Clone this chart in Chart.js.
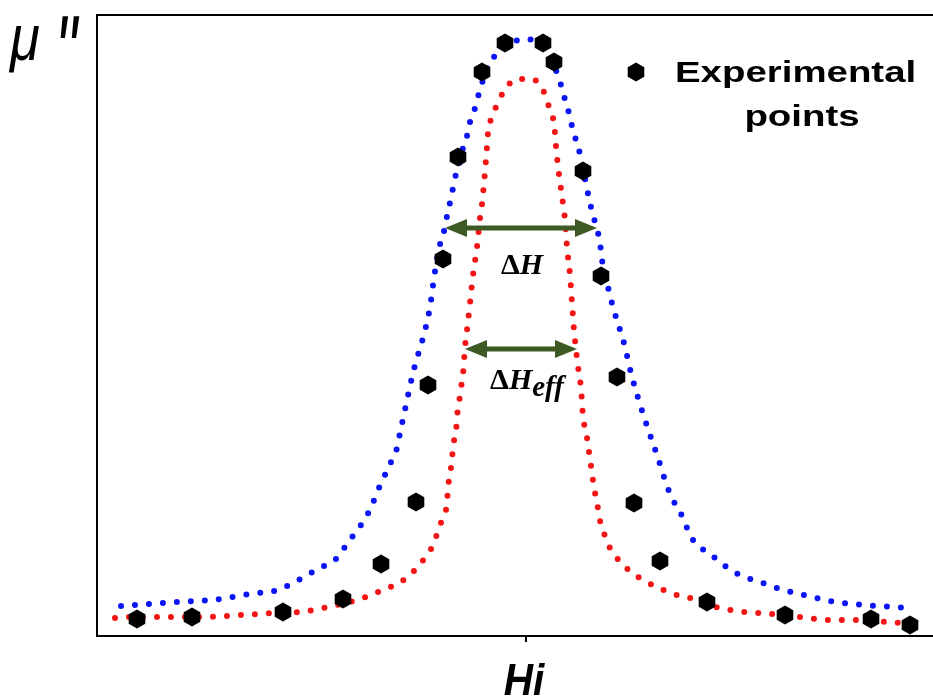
<!DOCTYPE html>
<html>
<head>
<meta charset="utf-8">
<script src="https://cdn.jsdelivr.net/npm/chart.js@4.4.1/dist/chart.umd.min.js"></script>
<style>
  html, body { margin: 0; padding: 0; background: #fff; overflow: hidden; }
  #wrap { width: 933px; height: 698px; position: relative; }
  canvas { display: block; }
</style>
</head>
<body>
<div id="wrap"><canvas id="chart"></canvas></div>
<script>
// Field offset from resonance (Hi = 0) and absorption values.
const pointsX = [-389, -334, -243, -183, -145, -110, -98, -83, -68, -44, -21, 17, 28, 57, 75, 91, 108, 134, 181, 259, 345, 384];
const pointsY = [17, 19, 24, 37, 72, 134, 251, 377, 479, 564, 593, 593, 574, 465, 360, 259, 133, 75, 34, 21, 17, 11];

const blueX = [-405, -391, -348, -306, -277, -248, -235, -220, -207, -192, -181, -171, -161, -154, -148, -142, -135, -129, -126, -123, -120, -117, -114, -96, -92, -87, -83, -80, -77, -74, -71, -67, -63, -59, -56, -51, -47, -43, -37, -27, -13, 1, 32, 36, 40, 44, 47, 52, 64, 67, 74, 76, 82, 87, 94, 99, 105, 113, 122, 132, 141, 147, 155, 161, 169, 183, 195, 212, 240, 254, 282, 310, 339, 367, 382];
const blueY = [30, 31, 34, 37, 42, 46, 52, 60, 68, 75, 89, 103, 117, 131, 146, 159, 174, 188, 203, 217, 231, 245, 259, 329, 358, 388, 400, 415, 429, 443, 458, 471, 488, 500, 514, 528, 543, 556, 572, 584, 594, 597, 561, 547, 533, 519, 505, 490, 433, 421, 393, 376, 349, 329, 306, 289, 263, 235, 207, 178, 150, 136, 122, 108, 93, 83, 73, 62, 52, 47, 40, 34, 31, 29, 28];

const redX = [-411, -396, -368, -325, -283, -254, -226, -198, -169, -155, -141, -127, -114, -102, -93, -88, -83, -79, -78, -76, -74, -73, -70, -69, -67, -65, -63, -61, -59, -56, -53, -49, -46, -44, -39, -38, -35, -29, -22, -9, 6, 17, 22, 27, 29, 30, 37, 39, 41, 44, 46, 48, 53, 55, 56, 57, 60, 62, 64, 66, 68, 71, 73, 77, 82, 91, 105, 119, 133, 147, 161, 190, 219, 247, 275, 303, 332, 361, 374];
const redY = [18, 19, 19, 19, 21, 23, 24, 29, 36, 41, 47, 53, 63, 77, 91, 105, 119, 133, 148, 162, 176, 190, 204, 219, 233, 248, 262, 289, 306, 333, 361, 389, 418, 432, 489, 503, 517, 531, 545, 557, 557, 546, 532, 518, 503, 489, 432, 416, 389, 361, 333, 306, 262, 248, 234, 219, 205, 191, 177, 163, 148, 134, 120, 106, 92, 78, 64, 55, 48, 42, 39, 29, 24, 22, 19, 16, 16, 14, 13];

// Width markers: [from, to, level] in data units.
const deltaH = [-81, 71, 408];
const deltaHeff = [-61, 51, 287];

const xRange = [-429, 407];
const yRange = [0, 621];

function zip(xs, ys) {
    return xs.map((x, i) => ({ x, y: ys[i] }));
}

function hexPath(ctx, cx, cy, r) {
    ctx.beginPath();
    for (let k = 0; k < 6; k++) {
        const a = (-90 + k * 60) * Math.PI / 180;
        const px = cx + r * Math.cos(a);
        const py = cy + r * Math.sin(a);
        if (k === 0) ctx.moveTo(px, py); else ctx.lineTo(px, py);
    }
    ctx.closePath();
}

const hex = document.createElement('canvas');
hex.width = 22;
hex.height = 22;
(() => {
    const c = hex.getContext('2d');
    c.fillStyle = '#000';
    hexPath(c, 11, 11, 9.6);
    c.fill();
})();

function drawArrow(ctx, x1, x2, y) {
    const head = 22, half = 9;
    ctx.save();
    ctx.strokeStyle = '#3d5a24';
    ctx.fillStyle = '#3d5a24';
    ctx.lineWidth = 5;
    ctx.beginPath();
    ctx.moveTo(x1 + head - 2, y);
    ctx.lineTo(x2 - head + 2, y);
    ctx.stroke();
    ctx.beginPath();
    ctx.moveTo(x1, y);
    ctx.lineTo(x1 + head, y - half);
    ctx.lineTo(x1 + head, y + half);
    ctx.closePath();
    ctx.fill();
    ctx.beginPath();
    ctx.moveTo(x2, y);
    ctx.lineTo(x2 - head, y - half);
    ctx.lineTo(x2 - head, y + half);
    ctx.closePath();
    ctx.fill();
    ctx.restore();
}

// runs: [{text, font, dy}] drawn left to right, centred on cx
function drawRuns(ctx, runs, cx, baseline) {
    let total = 0;
    runs.forEach(r => { ctx.font = r.font; total += ctx.measureText(r.text).width; });
    let x = cx - total / 2;
    runs.forEach(r => {
        ctx.font = r.font;
        ctx.fillText(r.text, x, baseline + (r.dy || 0));
        x += ctx.measureText(r.text).width;
    });
}

const annotations = {
    id: 'annotations',
    afterDatasetsDraw(chart) {
        const { ctx, scales: { x, y } } = chart;
        ctx.save();

        drawArrow(ctx, x.getPixelForValue(deltaH[0]), x.getPixelForValue(deltaH[1]), y.getPixelForValue(deltaH[2]));
        drawArrow(ctx, x.getPixelForValue(deltaHeff[0]), x.getPixelForValue(deltaHeff[1]), y.getPixelForValue(deltaHeff[2]));

        ctx.fillStyle = '#000';
        ctx.textBaseline = 'alphabetic';
        ctx.textAlign = 'left';
        const up = 'bold 30px "Liberation Serif"';
        const it = 'italic bold 30px "Liberation Serif"';
        drawRuns(ctx, [{ text: 'Δ', font: up }, { text: 'H', font: it }], 522, 274);
        drawRuns(ctx, [{ text: 'Δ', font: up }, { text: 'H', font: it }, { text: 'eff', font: 'italic bold 29px "Liberation Serif"', dy: 7 }], 527, 389);

        // legend
        ctx.fillStyle = '#000';
        hexPath(ctx, 636, 72, 9.6);
        ctx.fill();
        ctx.font = 'bold 30px "Liberation Sans"';
        ctx.save();
        ctx.translate(675, 82);
        ctx.scale(1.28, 1);
        ctx.fillText('Experimental', 0, 0);
        ctx.restore();
        ctx.save();
        ctx.translate(802, 126);
        ctx.scale(1.28, 1);
        ctx.textAlign = 'center';
        ctx.fillText('points', 0, 0);
        ctx.restore();

        // axis titles
        ctx.save();
        ctx.font = 'italic 64px "Liberation Sans"';
        ctx.translate(10, 60);
        ctx.scale(0.85, 1);
        ctx.fillText('μ', 0, 0);
        ctx.restore();
        ctx.save();
        ctx.font = 'italic 100px "Liberation Sans"';
        ctx.translate(55, 85);
        ctx.scale(0.62, 1);
        ctx.fillText('"', 0, 0);
        ctx.restore();

        ctx.save();
        ctx.font = 'italic bold 45px "Liberation Sans"';
        ctx.translate(x.getPixelForValue(0) - 2, 695);
        ctx.scale(0.9, 1);
        ctx.textAlign = 'center';
        ctx.fillText('Hi', 0, 0);
        ctx.restore();

        ctx.restore();
    }
};

const dotted = color => ({
    showLine: true,
    pointRadius: 0,
    borderColor: color,
    borderWidth: 6,
    borderDash: [0, 14],
    borderCapStyle: 'round',
    cubicInterpolationMode: 'monotone',
    fill: false
});

new Chart(document.getElementById('chart').getContext('2d'), {
    type: 'scatter',
    data: {
        datasets: [
            {
                label: 'Experimental points',
                data: zip(pointsX, pointsY),
                pointStyle: hex,
                pointRadius: 10,
                showLine: false
            },
            { label: 'Fit', data: zip(blueX, blueY), ...dotted('#0a14f5') },
            { label: 'Effective', data: zip(redX, redY), ...dotted('#f51414') }
        ]
    },
    options: {
        responsive: true,
        maintainAspectRatio: false,
        animation: false,
        events: [],
        layout: { padding: 0, autoPadding: false },
        plugins: {
            legend: { display: false },
            tooltip: { enabled: false }
        },
        scales: {
            x: {
                type: 'linear',
                position: 'bottom',
                min: xRange[0],
                max: xRange[1],
                border: { display: true, color: '#000', width: 2 },
                grid: { display: true, drawOnChartArea: false, drawTicks: true, tickLength: 6, color: '#000', lineWidth: 2 },
                ticks: { display: false },
                afterBuildTicks: s => { s.ticks = [{ value: 0 }]; },
                afterFit: s => { s.height = 62; }
            },
            x2: {
                type: 'linear',
                position: 'top',
                min: xRange[0],
                max: xRange[1],
                border: { display: true, color: '#000', width: 2 },
                grid: { display: false },
                ticks: { display: false },
                afterFit: s => { s.height = 15; }
            },
            y: {
                type: 'linear',
                min: yRange[0],
                max: yRange[1],
                border: { display: true, color: '#000', width: 2 },
                grid: { display: false },
                ticks: { display: false },
                afterFit: s => { s.width = 97; }
            }
        }
    },
    plugins: [annotations]
});
</script>
</body>
</html>
